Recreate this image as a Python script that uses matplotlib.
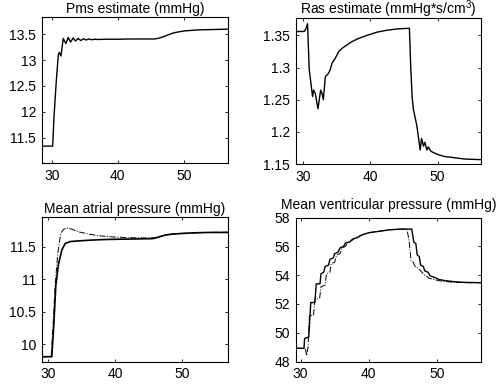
import matplotlib
matplotlib.use('Agg')
import matplotlib.pyplot as plt

plt.rcParams['font.family'] = ['Liberation Sans', 'DejaVu Sans']
plt.rcParams['mathtext.default'] = 'regular'
plt.rcParams['font.size'] = 10

# Pms estimate
t_pms = [28.5, 30.15, 30.35, 30.7, 31.0, 31.15, 31.4, 31.75, 32.15, 32.5, 32.85,
         33.25, 33.6, 34.0, 34.4, 34.8, 35.2, 35.6, 36.0, 36.5, 37.0, 38.0, 40.0,
         42.0, 44.0, 45.6, 46.3, 47.0, 47.8, 48.5, 49.3, 50.0, 51.0, 52.0, 53.5,
         55.0, 56.7]
pms = [11.335, 11.335, 11.9, 12.6, 13.1, 13.15, 13.08, 13.42, 13.32, 13.44, 13.35,
       13.43, 13.37, 13.42, 13.38, 13.415, 13.39, 13.41, 13.395, 13.405, 13.40,
       13.405, 13.405, 13.41, 13.41, 13.41, 13.43, 13.46, 13.5, 13.53, 13.55,
       13.565, 13.575, 13.585, 13.59, 13.595, 13.6]

# Ras estimate
t_ras = [28.9, 30.15, 30.4, 30.65, 30.9, 31.1, 31.4, 31.55, 31.8, 32.2, 32.6,
         32.8, 33.0, 33.3, 33.7, 34.0, 34.3, 34.8, 35.3, 35.8, 36.5, 37.2, 38.2,
         39.5, 41.0, 42.5, 44.0, 45.8, 46.0, 46.2, 46.4, 46.7, 46.9, 47.4, 47.6,
         47.9, 48.1, 48.4, 48.6, 49.0, 50.0, 51.0, 52.5, 54.0, 56.5]
ras = [1.356, 1.356, 1.36, 1.368, 1.297, 1.28, 1.255, 1.265, 1.26, 1.236, 1.265,
       1.26, 1.25, 1.286, 1.29, 1.296, 1.307, 1.315, 1.325, 1.33, 1.335, 1.34,
       1.345, 1.35, 1.355, 1.358, 1.36, 1.361, 1.30, 1.255, 1.234, 1.22, 1.21,
       1.172, 1.19, 1.178, 1.184, 1.172, 1.177, 1.17, 1.165, 1.162, 1.16, 1.158,
       1.157]

# Mean atrial pressure
t_atr = [29.0, 30.5, 30.8, 31.1, 31.5, 32.0, 32.5, 33.25, 34.5, 36.0, 38.0, 40.0,
         43.0, 45.6, 46.5, 47.5, 48.5, 50.0, 52.0, 54.0, 56.9]
atr = [9.81, 9.81, 10.3, 10.9, 11.23, 11.45, 11.55, 11.58, 11.59, 11.6, 11.61,
       11.615, 11.62, 11.625, 11.65, 11.68, 11.695, 11.705, 11.715, 11.72, 11.72]
t_atr2 = [29.0, 30.4, 30.7, 31.0, 31.4, 31.85, 32.3, 32.75, 33.5, 34.5, 36.25,
          38.0, 39.75, 42.0, 45.0, 46.0, 47.0, 48.5, 50.0, 52.0, 54.0, 56.9]
atr2 = [9.81, 9.81, 10.3, 10.9, 11.4, 11.71, 11.77, 11.79, 11.77, 11.73, 11.69,
        11.665, 11.65, 11.64, 11.635, 11.64, 11.67, 11.695, 11.705, 11.715,
        11.72, 11.725]

# Mean ventricular pressure
t_ven = [29.3, 30.5, 30.6, 31.2, 31.5, 32.1, 32.3, 32.85, 33.0, 33.4, 33.6, 34.1,
         34.3, 34.8, 35.0, 35.5, 35.8, 36.3, 36.6, 37.2, 37.6, 38.3, 39.0, 40.0,
         41.5, 43.0, 44.5, 46.3, 46.6, 46.9, 47.1, 47.4, 47.6, 48.0, 48.2, 48.7,
         49.0, 49.6, 50.3, 51.2, 52.5, 54.0, 56.5]
ven = [48.92, 48.92, 49.6, 49.7, 52.1, 52.1, 53.4, 53.4, 54.1, 54.2, 54.6, 54.7,
       55.1, 55.2, 55.5, 55.6, 55.9, 56.0, 56.25, 56.3, 56.5, 56.6, 56.8, 56.95,
       57.05, 57.15, 57.2, 57.2, 56.3, 56.2, 55.4, 55.3, 54.7, 54.6, 54.3, 54.2,
       53.95, 53.85, 53.7, 53.62, 53.55, 53.5, 53.48]
t_ven2 = [29.3, 30.7, 30.9, 31.1, 31.3, 31.9, 32.1, 32.8, 33.0, 33.6, 33.8, 34.3,
          34.5, 35.0, 35.3, 35.8, 36.1, 36.6, 36.9, 37.5, 38.0, 39.0, 40.0, 41.5,
          43.0, 44.5, 45.6, 45.9, 46.2, 46.5, 46.8, 47.2, 47.6, 48.2, 48.8, 49.5,
          50.5, 52.0, 54.0, 56.5]
ven2 = [48.92, 48.92, 48.4, 49.0, 51.2, 51.2, 52.3, 52.4, 53.2, 53.3, 54.1, 54.2,
        54.8, 54.9, 55.4, 55.5, 55.9, 56.0, 56.3, 56.4, 56.6, 56.8, 56.95, 57.05,
        57.15, 57.2, 57.2, 56.4, 55.0, 54.9, 54.6, 54.5, 54.3, 54.0, 53.8, 53.7,
        53.6, 53.52, 53.48, 53.47]

xticks = [30, 40, 50]


def style(ax, xlim, ylim, yticks, ylabels, title, tpad=2.5):
    ax.set_xlim(xlim)
    ax.set_ylim(ylim)
    ax.set_xticks(xticks)
    ax.set_xticklabels([str(v) for v in xticks])
    ax.set_yticks(yticks)
    ax.set_yticklabels(ylabels)
    ax.tick_params(direction='in', length=2.5, width=0.6, top=True, right=True,
                   labelsize=10)
    ax.tick_params(axis='x', pad=4)
    ax.tick_params(axis='y', pad=4)
    for s in ax.spines.values():
        s.set_linewidth(0.8)
    ax.set_title(title, fontsize=10, pad=tpad)


fig = plt.figure(figsize=(5.03, 3.9), dpi=100)

ax1 = fig.add_axes([0.083, 0.581, 0.371, 0.376])
ax1.plot(t_pms, pms, color='k', lw=1.0)
style(ax1, (28.5, 56.7), (11.0, 13.84), [11.5, 12, 12.5, 13, 13.5],
      ['11.5', '12', '12.5', '13', '13.5'], 'Pms estimate (mmHg)')

ax2 = fig.add_axes([0.588, 0.579, 0.369, 0.375])
ax2.plot(t_ras, ras, color='k', lw=1.0)
style(ax2, (28.9, 56.5), (1.15, 1.377), [1.15, 1.2, 1.25, 1.3, 1.35],
      ['1.15', '1.2', '1.25', '1.3', '1.35'], 'Ras estimate (mmHg*s/cm$^{3}$)')

ax3 = fig.add_axes([0.083, 0.072, 0.371, 0.372])
ax3.plot(t_atr2, atr2, color='k', lw=0.7, ls='-.')
ax3.plot(t_atr, atr, color='k', lw=1.2)
style(ax3, (29.0, 56.9), (9.73, 11.96), [10, 10.5, 11, 11.5],
      ['10', '10.5', '11', '11.5'], 'Mean atrial pressure (mmHg)')

ax4 = fig.add_axes([0.588, 0.073, 0.369, 0.369])
ax4.plot(t_ven2, ven2, color='k', lw=0.7, ls='-.')
ax4.plot(t_ven, ven, color='k', lw=1.0)
style(ax4, (29.3, 56.5), (48, 58), [48, 50, 52, 54, 56, 58],
      ['48', '50', '52', '54', '56', '58'], 'Mean ventricular pressure (mmHg)',
      tpad=6)

fig.savefig('out.png', dpi=100)
